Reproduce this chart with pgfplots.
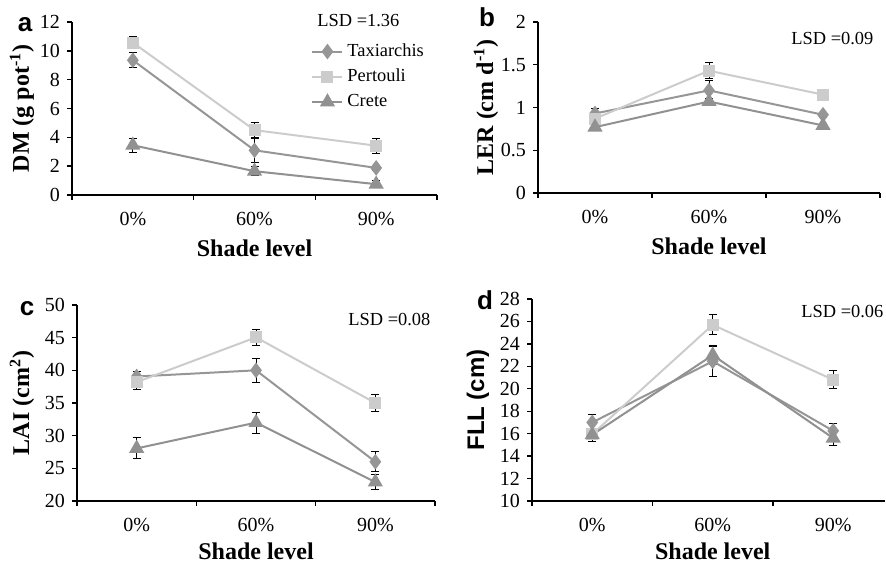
\documentclass[border=0pt]{standalone}
\usepackage{fontspec}
\setmainfont{Liberation Serif}
\newfontfamily\arialfont{Liberation Sans}
\usepackage{pgfplots}
\usepackage{pgfplotstable}
\pgfplotsset{compat=1.18}
\definecolor{taxc}{RGB}{150,150,150}
\definecolor{perc}{RGB}{204,204,204}
\definecolor{crec}{RGB}{145,145,145}
% columns: shade index, Taxiarchis mean/err, Pertouli mean/err, Crete mean/err
\pgfplotstableread{
x tax taxe per pere cre cree
0 9.35 0.5 10.57 0.4 3.45 0.5
1 3.1 0.85 4.5 0.52 1.65 0.3
2 1.88 0.15 3.42 0.52 0.75 0.25
}\dataDM
\pgfplotstableread{
x tax taxe per pere cre cree
0 0.93 0.06 0.87 0.03 0.77 0.03
1 1.2 0.12 1.43 0.095 1.07 0.03
2 0.915 0.03 1.15 0.02 0.79 0.02
}\dataLER
\pgfplotstableread{
x tax taxe per pere cre cree
0 39.05 0.7 38.2 1.2 28.05 1.6
1 40.0 1.8 45.05 1.2 32.0 1.6
2 26.0 1.5 35.0 1.25 22.9 1.1
}\dataLAI
\pgfplotstableread{
x tax taxe per pere cre cree
0 17.0 0.7 15.95 0.5 15.9 0.6
1 22.45 1.35 25.7 0.9 23.0 0.85
2 16.25 0.65 20.8 0.8 15.6 0.65
}\dataFLL
\pgfplotsset{
  panel/.style={
    scale only axis, clip=false,
    axis x line*=bottom, axis y line*=left,
    axis line style={line width=0.9pt,-,black},
    xmin=-0.5, xmax=2.5,
    xtick={0,1,2}, xticklabels={0\%,60\%,90\%},
    minor xtick={-0.5,0.5,1.5,2.5},
    major x tick style={draw=none},
    tick align=outside,
    major tick length=2.5pt, minor tick length=2.5pt,
    every tick/.style={black,line width=0.7pt},
    minor x tick style={black,line width=0.7pt},
    tick label style={font=\fontsize{10}{12}\selectfont},
    /pgf/number format/assume math mode=true,
    x tick label style={yshift=-2.5pt},
    label style={font=\fontsize{12}{14}\selectfont\bfseries},
    every axis plot/.append style={line width=1pt},
  },
  errs/.style={draw=none, mark=none, forget plot,
    error bars/y dir=both, error bars/y explicit,
    error bars/error bar style={draw=black,line width=0.5pt},
    error bars/error mark options={rotate=90,draw=black,mark size=2pt,line width=0.5pt}},
  tax/.style={color=taxc, mark=diamond*, mark size=3.1pt, mark options={fill=taxc,draw=taxc}},
  per/.style={color=perc, mark=square*, mark size=2.5pt, mark options={fill=perc,draw=perc}},
  cre/.style={color=crec, mark=triangle*, mark size=3.4pt, mark options={fill=crec,draw=crec}},
}
\newcommand\threeseries[1]{%
  \addplot[errs] table[x=x,y=tax,y error=taxe] {#1};
  \addplot[errs] table[x=x,y=per,y error=pere] {#1};
  \addplot[errs] table[x=x,y=cre,y error=cree] {#1};
  \addplot[tax] table[x=x,y=tax] {#1};
  \addplot[per] table[x=x,y=per] {#1};
  \addplot[cre] table[x=x,y=cre] {#1};
}
\begin{document}
\begin{tikzpicture}
\useasboundingbox (0,0) rectangle (443pt,283pt);
% panel a
\begin{axis}[panel, at={(36pt,185.5pt)}, anchor=south west, width=182.5pt, height=86.5pt,
  ymin=0, ymax=12, ytick={0,2,...,12},
  ylabel={DM (g pot\textsuperscript{-1})},
  ylabel style={at={([xshift=-25pt]rel axis cs:0,0.5)}, anchor=center},
  xlabel={Shade level},
  xlabel style={at={([yshift=-26.5pt]rel axis cs:0.5,0)}, anchor=center},
  legend style={at={(rel axis cs:0.655,0.9)}, anchor=north west, draw=none, fill=none,
    font=\fontsize{9.2}{11}\selectfont, row sep=0.8pt, inner sep=0pt,
    nodes={inner sep=2pt}},
  legend cell align=left,
  legend image code/.code={\draw[mark repeat=2,mark phase=2,#1] plot coordinates {(0pt,0pt) (7.5pt,0pt) (15pt,0pt)};},
]
\threeseries{\dataDM}
\legend{Taxiarchis,Pertouli,Crete}
\end{axis}
% panel b
\begin{axis}[panel, at={(269pt,186.5pt)}, anchor=south west, width=171pt, height=85.5pt,
  ymin=0, ymax=2, ytick={0,0.5,1,1.5,2},
  ylabel={LER (cm d\textsuperscript{-1})},
  ylabel style={at={([xshift=-26pt]rel axis cs:0,0.5)}, anchor=center},
  xlabel={Shade level},
  xlabel style={at={([yshift=-26.5pt]rel axis cs:0.5,0)}, anchor=center},
]
\threeseries{\dataLER}
\end{axis}
% panel c
\begin{axis}[panel, at={(38.5pt,32.5pt)}, anchor=south west, width=179pt, height=98pt,
  ymin=20, ymax=50, ytick={20,25,...,50},
  ylabel={LAI (cm\textsuperscript{2})},
  ylabel style={at={([xshift=-27.5pt]rel axis cs:0,0.5)}, anchor=center},
  xlabel={Shade level},
  xlabel style={at={([yshift=-25pt]rel axis cs:0.5,0)}, anchor=center},
]
\threeseries{\dataLAI}
\end{axis}
% panel d
\begin{axis}[panel, at={(266pt,32.5pt)}, anchor=south west, width=176.5pt, height=101pt,
  xmax=2.43,
  ymin=10, ymax=28, ytick={10,12,...,28},
  ylabel={\arialfont\bfseries FLL (cm)},
  ylabel style={at={([xshift=-27pt]rel axis cs:0,0.5)}, anchor=center},
  xlabel={Shade level},
  xlabel style={at={([yshift=-25pt]rel axis cs:0.512,0)}, anchor=center},
]
\threeseries{\dataFLL}
\end{axis}
% panel letters and LSD notes
\node[anchor=base, font=\fontsize{13}{15}\selectfont\arialfont\bfseries] at (12.5pt,267pt) {a};
\node[anchor=base, font=\fontsize{13}{15}\selectfont\arialfont\bfseries] at (243.5pt,269.5pt) {b};
\node[anchor=base, font=\fontsize{13}{15}\selectfont\arialfont\bfseries] at (13.5pt,125pt) {c};
\node[anchor=base, font=\fontsize{13}{15}\selectfont\arialfont\bfseries] at (242.5pt,128pt) {d};
\node[anchor=base west, inner sep=0pt, font=\fontsize{9.2}{11}\selectfont] at (158.5pt,269.5pt) {LSD =1.36};
\node[anchor=base west, inner sep=0pt, font=\fontsize{9.2}{11}\selectfont] at (395.5pt,260.5pt) {LSD =0.09};
\node[anchor=base west, inner sep=0pt, font=\fontsize{9.2}{11}\selectfont] at (174pt,120pt) {LSD =0.08};
\node[anchor=base west, inner sep=0pt, font=\fontsize{9.2}{11}\selectfont] at (400.5pt,124pt) {LSD =0.06};
\end{tikzpicture}
\end{document}
